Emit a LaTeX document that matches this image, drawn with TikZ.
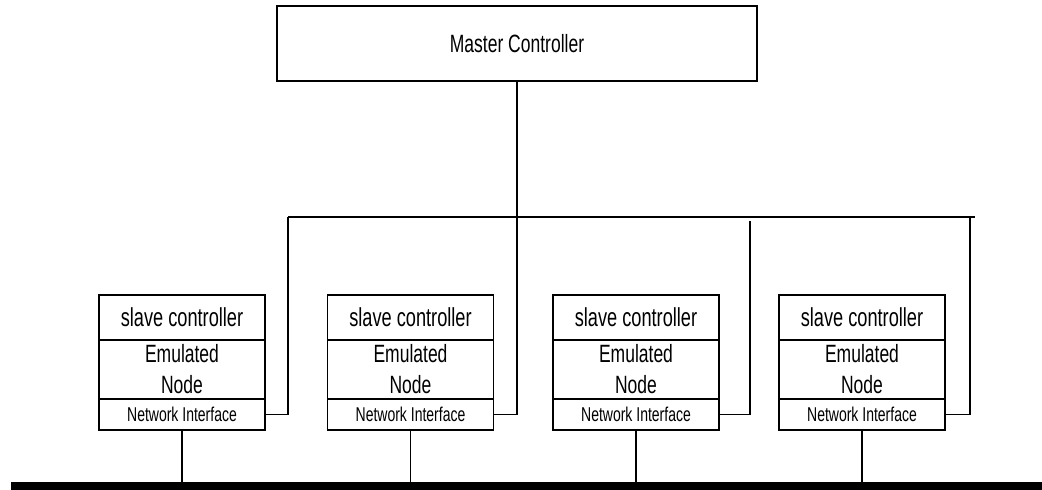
\documentclass[tikz,border=0pt]{standalone}
\usepackage{fontspec}
\setmainfont{Liberation Sans}[FakeStretch=0.7]
\usetikzlibrary{positioning}
\tikzset{
  masterbox/.style= {
    draw,
    line width = 1pt,
    minimum width = 240pt,
    minimum height = 37.5pt,
    font = \fontsize{12.5}{15}\selectfont
  },
  slavepart/.style= {
    draw,
    line width = 0.9pt,
    minimum width = 83pt,
    inner sep = 0pt,
    outer sep = 0pt
  },
  ctlpart/.style= {
    slavepart,
    minimum height = 22.5pt,
    font = \fontsize{13}{15}\selectfont
  },
  emupart/.style= {
    slavepart,
    minimum height = 29.5pt,
    align = center,
    font = \fontsize{12.5}{15.5}\selectfont
  },
  netpart/.style= {
    slavepart,
    minimum height = 15.5pt,
    font = \fontsize{10}{12}\selectfont
  },
  link/.style= {line width = 0.9pt},
  bus/.style= {line width = 4pt}
}

\begin{document}
\begin{tikzpicture}[x=0.5pt,y=-0.5pt]
  \useasboundingbox (0,0) rectangle (1042,490);

  \node[masterbox] (master) at (517,43.5) {Master Controller};

  % one slave stack per emulated node
  \foreach \i/\x in {1/182,2/410.5,3/636,4/862} {
    \node[ctlpart] (ctl\i) at (\x,317.5) {slave controller};
    \node[emupart,below=0pt of ctl\i] (emu\i) {Emulated\\Node};
    \node[netpart,below=0pt of emu\i] (net\i) {Network Interface};
  }

  % shared network
  \coordinate (busL) at (11,486.5);
  \coordinate (busR) at (1042,486.5);
  \draw[bus] (busL) -- (busR);
  \foreach \i in {1,...,4}
    \draw[link] (net\i.south) -- (net\i.south |- busL);

  % control lines from the master
  \coordinate (trunkL) at (288,217);
  \coordinate (trunkR) at (975,217);
  \coordinate (tap3) at (750,221);
  \coordinate (tap4) at (970,217);
  \draw[link] (trunkL) -- (trunkR);
  \draw[link] (master.south) |- (net2.east);
  \draw[link] (trunkL) |- (net1.east);
  \draw[link] (net3.east) -| (tap3);
  \draw[link] (net4.east) -| (tap4);
\end{tikzpicture}
\end{document}
